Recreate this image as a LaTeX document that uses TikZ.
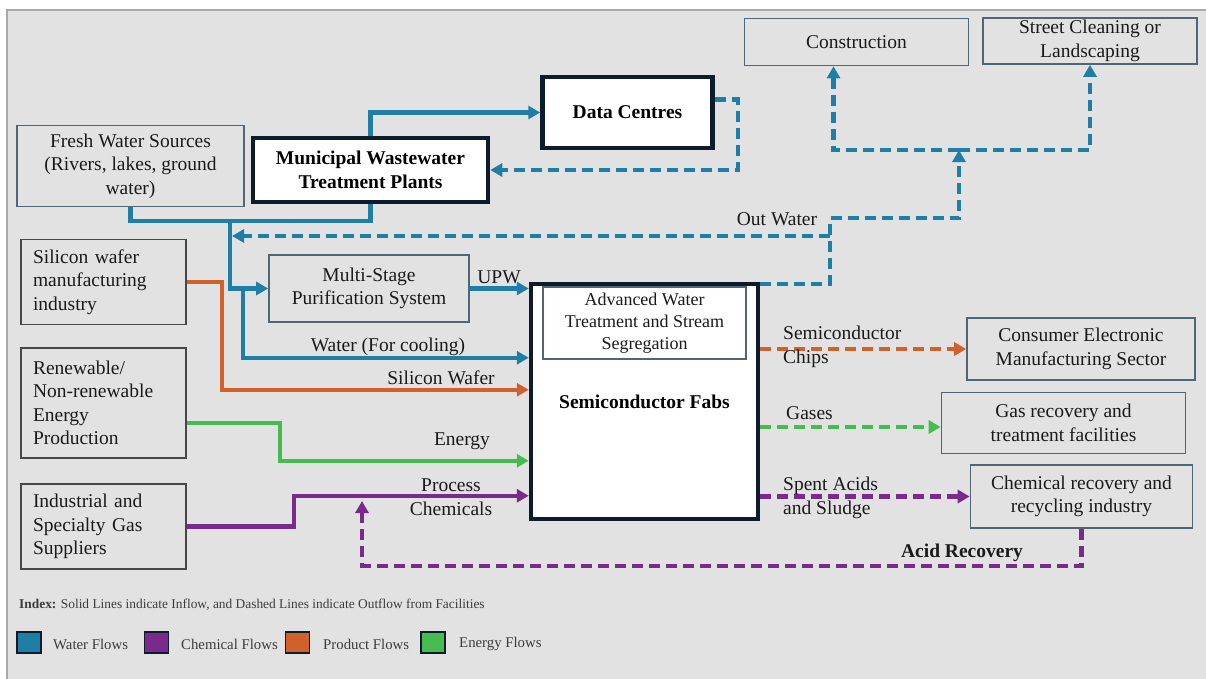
\documentclass[tikz,border=0pt]{standalone}
\usepackage{fontspec}
\setmainfont{Liberation Serif}
\usetikzlibrary{arrows.meta,calc}
\definecolor{bgc}{HTML}{E2E2E2}
\definecolor{panelline}{HTML}{A9A9A9}
\definecolor{waterc}{HTML}{1F7EA6}
\definecolor{chemc}{HTML}{7A2A8C}
\definecolor{prodc}{HTML}{D2602A}
\definecolor{enc}{HTML}{45BC4F}
\definecolor{navy}{HTML}{0E1B2C}
\definecolor{slate}{HTML}{4F6677}
\definecolor{dgray}{HTML}{474747}
\definecolor{txt}{HTML}{1A1A1A}
\newcommand\fs{\fontsize{19.5}{23.5}\selectfont}
\newcommand\legf{\fontsize{14.8}{16}\selectfont}
\tikzset{
  gbox/.style={draw=slate, line width=1.6pt, fill=bgc, inner sep=0pt, align=center, font=\fs, text=txt},
  lbox/.style={gbox, draw=dgray, align=left, inner xsep=12pt, inner ysep=0pt, text width=141pt},
  kbox/.style={draw=navy, line width=4.5pt, fill=white, inner sep=0pt, align=center, text=black},
  flow/.style={line width=4.2pt},
  water/.style={flow, draw=waterc},
  prod/.style={flow, draw=prodc},
  energy/.style={flow, draw=enc},
  chem/.style={flow, draw=chemc},
  dsh/.style={dash pattern=on 11pt off 6pt},
  arr/.style={-{Triangle[length=12pt,width=13pt]}},
  lab/.style={font=\fs, text=txt, inner sep=0pt},
  legsq/.style={draw=navy, line width=1.5pt, minimum width=24pt, minimum height=21pt, inner sep=0pt},
  legtx/.style={font=\legf, text=txt!85, inner sep=0pt, anchor=west},
}
\begin{document}
\begin{tikzpicture}[x=1pt,y=-1pt]
\useasboundingbox (0,0) rectangle (1206,678);
\fill[white] (0,0) rectangle (1206,678);
\draw[panelline, line width=2pt, fill=bgc] (7,10) rectangle (1215,690);

% boxes
\node[gbox, minimum width=224pt, minimum height=47pt] (constr) at (856.5,42) {Construction};
\node[gbox, minimum width=214pt, minimum height=46pt] (street) at (1090,41) {Street Cleaning or\\Landscaping};
\node[kbox, minimum width=170pt, minimum height=71pt, font=\fs\bfseries] (data) at (627.5,112.5) {Data Centres};
\node[kbox, minimum width=235pt, minimum height=64pt, font=\fs\bfseries] (muni) at (370.5,170) {Municipal Wastewater\\Treatment Plants};
\node[gbox, minimum width=227pt, minimum height=81pt] (fresh) at (130.5,166) {Fresh Water Sources\\(Rivers, lakes, ground\\water)};
\node[lbox, minimum height=85pt] (silicon) at (103.5,282) {Silicon wafer\\manufacturing\\industry};
\node[gbox, minimum width=200pt, minimum height=67pt] (multi) at (369,288.5) {Multi-Stage\\Purification System};
\node[kbox, minimum width=227pt, minimum height=235pt, font=\fs\bfseries] (fabs) at (644.5,401.5) {Semiconductor Fabs};
\node[gbox, fill=white, line width=1.3pt, minimum width=203pt, minimum height=72pt, font=\fontsize{18}{22}\selectfont] (adv) at (644.5,323) {Advanced Water\\Treatment and Stream\\Segregation};
\node[lbox, minimum height=110pt] (renew) at (103.5,403) {Renewable/\\Non-renewable\\Energy\\Production};
\node[lbox, minimum height=85pt] (indus) at (103.5,526.5) {Industrial and\\Specialty Gas\\Suppliers};
\node[gbox, minimum width=228pt, minimum height=62pt] (cons) at (1081,349) {Consumer Electronic\\Manufacturing Sector};
\node[gbox, minimum width=244pt, minimum height=61pt] (gasr) at (1063.5,423) {Gas recovery and\\treatment facilities};
\node[gbox, minimum width=222pt, minimum height=63pt] (chemr) at (1081.5,496.5) {Chemical recovery and\\recycling industry};

% junction coordinates
\coordinate (jw) at (230,220.5);
\coordinate (jc) at (243,288);
\coordinate (owa) at (830,218);
\coordinate (owl) at (830,236);
\coordinate (owj) at (959,150);
\coordinate (acd) at (362,501);
\path (gasr.west) ++(0,4) coordinate (gw);

% water flows
\draw[water] (fresh.south) -- ++(0,14) -| (muni.south);
\draw[water, arr] (jw) |- (multi.west);
\draw[water, arr] (jc) |- ([yshift=-76pt]fabs.north west);
\draw[water, arr] (multi.east) -- (multi.east -| fabs.west);
\draw[water, arr] (muni.north) |- (data.west);
\draw[water, dsh, arr] ([yshift=13pt]data.east) -- ++(23,0) |- (muni.east);
\draw[water, dsh, arr] ([yshift=-2pt]fabs.north east) -| (owa) -| (owj);
\draw[water, dsh, arr] (owj) -| ([xshift=-23pt]constr.south);
\draw[water, dsh, arr] (owj) -| (street.south);
\draw[water, dsh, arr, shorten >=2pt] (owl) -- (owl -| jw);

% product flows
\draw[prod, arr] (silicon.east) -- ++(35,0) |- ([yshift=-108pt]fabs.north west);
\draw[prod, dsh, arr] (fabs.east |- cons.west) -- (cons.west);

% energy flows
\draw[energy, arr] ([yshift=-20pt]renew.east) -- ++(93,0) |- ([yshift=-179pt]fabs.north west);
\draw[energy, dsh, arr] (fabs.east |- gw) -- (gw);

% chemical flows
\draw[chem, arr] (indus.east) -- ++(107,0) |- ([yshift=-214pt]fabs.north west);
\draw[chem, dsh, arr] (fabs.east |- chemr.west) -- (chemr.west);
\draw[chem, dsh, arr] (chemr.south) -- ++(0,37) -| (acd);

% labels
\node[lab] (lupw) at (499,277) {UPW};
\node[lab] (lout) at (777,219) {Out Water};
\node[lab] (lcool) at (388,347) {Water (For cooling)};
\node[lab] (lsw) at (441,378) {Silicon Wafer};
\node[lab] (len) at (462,441) {Energy};
\node[lab, align=center] (lpc) at (451,497) {Process\\Chemicals};
\node[lab, align=left, anchor=west] (lsc) at (783,347) {Semiconductor\\Chips};
\node[lab, anchor=west] (lg) at (786,413) {Gases};
\node[lab, align=left, anchor=west] (lsa) at (783,498) {Spent Acids\\and Sludge};
\node[lab, font=\fs\bfseries] (lar) at (962,553) {Acid Recovery};

% legend
\node[legtx, font=\fontsize{13.4}{15}\selectfont] (idx) at (19,605) {\textbf{Index:} Solid Lines indicate Inflow, and Dashed Lines indicate Outflow from Facilities};
\node[legsq, fill=waterc] (sqw) at (29,642.5) {};
\node[legtx] (tw) at (53,644) {Water Flows};
\node[legsq, fill=chemc] (sqc) at (156.5,642.5) {};
\node[legtx] (tc) at (181,644) {Chemical Flows};
\node[legsq, fill=prodc] (sqp) at (297.5,642.5) {};
\node[legtx] (tp) at (323,644) {Product Flows};
\node[legsq, fill=enc] (sqe) at (433,642.5) {};
\node[legtx] (te) at (459,644) {Energy Flows};
\end{tikzpicture}
\end{document}
